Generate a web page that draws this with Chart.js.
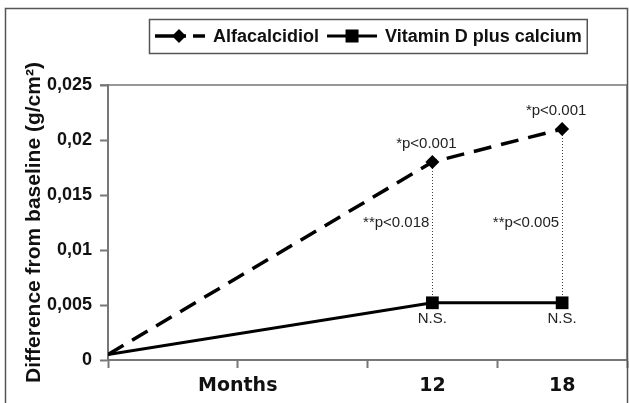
<!DOCTYPE html>
<html lang="en">
<head>
<meta charset="UTF-8">
<title>Difference from baseline</title>
<script src="https://cdn.jsdelivr.net/npm/chart.js"></script>
<style>
  html, body { margin: 0; padding: 0; background: #fff; }
</style>
</head>
<body>
<canvas id="grafico" width="629" height="403"></canvas>

<script>
// values
const months = [0, 12, 18];
const alfacalcidiol = [0.0005, 0.018, 0.021];
const vitaminDCalcium = [0.0005, 0.0052, 0.0052];
const seriesNames = ['Alfacalcidiol', 'Vitamin D plus calcium'];
const yTickValues = [0, 0.005, 0.01, 0.015, 0.02, 0.025];
const yTickLabels = ['0', '0,005', '0,01', '0,015', '0,02', '0,025'];
const xTickLabels = ['Months', '12', '18'];
const pAlfa = ['', '*p<0.001', '*p<0.001'];
const pBetween = ['', '**p<0.018', '**p<0.005'];
const pVitD = ['', 'N.S.', 'N.S.'];

// time axis is not to scale: baseline on the y axis, 12 and 18 in the last two slots
function slot(m) { return m === 0 ? 0 : 2.5 + (m - 12) / 6; }
const labelSlots = [1, slot(12), slot(18)];

const AXIS = '#777';
const TEXT = '#111';
const FONT = '"Liberation Sans", Arial, sans-serif';

function toPoints(values) {
    return months.map((m, i) => ({ x: slot(m), y: values[i] }));
}

function drawLegend(chart) {
    const ctx = chart.ctx;
    const area = chart.chartArea;
    ctx.save();
    ctx.font = 'bold 18px ' + FONT;
    const w1 = ctx.measureText(seriesNames[0]).width;
    const w2 = ctx.measureText(seriesNames[1]).width;
    const sample = 50, gap = 8, padL = 6, padR = 5;
    const boxW = padL + sample + gap + w1 + gap + sample + gap + w2 + padR;
    const left = Math.round((area.left + area.right) / 2 - boxW / 2);
    const top = 19, h = 34, mid = top + h / 2;

    ctx.strokeStyle = '#555';
    ctx.lineWidth = 1.5;
    ctx.strokeRect(left + 0.5, top + 0.5, boxW, h);

    // alfacalcidiol sample: dashed line with diamond
    let x = left + padL;
    ctx.strokeStyle = '#000';
    ctx.fillStyle = '#000';
    ctx.lineWidth = 3.5;
    ctx.setLineDash([31, 7]);
    ctx.beginPath();
    ctx.moveTo(x, mid);
    ctx.lineTo(x + sample, mid);
    ctx.stroke();
    ctx.setLineDash([]);
    const d = 7, cx = x + 24;
    ctx.beginPath();
    ctx.moveTo(cx, mid - d);
    ctx.lineTo(cx + d, mid);
    ctx.lineTo(cx, mid + d);
    ctx.lineTo(cx - d, mid);
    ctx.closePath();
    ctx.fill();
    x += sample + gap;
    ctx.textBaseline = 'middle';
    ctx.fillStyle = TEXT;
    ctx.fillText(seriesNames[0], x, mid + 1);
    x += w1 + gap;

    // vitamin D sample: solid line with square
    ctx.fillStyle = '#000';
    ctx.lineWidth = 3;
    ctx.beginPath();
    ctx.moveTo(x, mid);
    ctx.lineTo(x + sample, mid);
    ctx.stroke();
    ctx.fillRect(x + sample / 2 - 6.5, mid - 6.5, 13, 13);
    x += sample + gap;
    ctx.fillStyle = TEXT;
    ctx.fillText(seriesNames[1], x, mid + 1);
    ctx.restore();
}

const molduraPlugin = {
    id: 'moldura',
    beforeDatasetsDraw(chart) {
        const ctx = chart.ctx;
        const xs = chart.scales.x, ys = chart.scales.y;
        const area = chart.chartArea;
        ctx.save();
        // plot area border (top and right)
        ctx.strokeStyle = AXIS;
        ctx.lineWidth = 1.5;
        ctx.beginPath();
        ctx.moveTo(area.left - 8, area.top);
        ctx.lineTo(area.right, area.top);
        ctx.lineTo(area.right, area.bottom);
        ctx.stroke();
        // dotted connectors between the two series
        ctx.strokeStyle = '#444';
        ctx.lineWidth = 1;
        ctx.setLineDash([1, 2]);
        months.forEach((m, i) => {
            if (!pBetween[i]) return;
            const px = Math.round(xs.getPixelForValue(slot(m))) + 0.5;
            ctx.beginPath();
            ctx.moveTo(px, ys.getPixelForValue(alfacalcidiol[i]));
            ctx.lineTo(px, ys.getPixelForValue(vitaminDCalcium[i]));
            ctx.stroke();
        });
        ctx.restore();
    },
    afterDatasetsDraw(chart) {
        const ctx = chart.ctx;
        const xs = chart.scales.x, ys = chart.scales.y;
        ctx.save();
        ctx.font = '15px ' + FONT;
        ctx.fillStyle = '#222';
        ctx.textBaseline = 'middle';
        const midY = ys.getPixelForValue(0.0125);
        months.forEach((m, i) => {
            const px = xs.getPixelForValue(slot(m));
            ctx.textAlign = 'center';
            if (pAlfa[i]) ctx.fillText(pAlfa[i], px - 6, ys.getPixelForValue(alfacalcidiol[i]) - 18);
            if (pVitD[i]) ctx.fillText(pVitD[i], px, ys.getPixelForValue(vitaminDCalcium[i]) + 16);
            ctx.textAlign = 'right';
            if (pBetween[i]) ctx.fillText(pBetween[i], px - 3, midY);
        });
        ctx.restore();
    },
    afterDraw(chart) {
        const ctx = chart.ctx;
        ctx.save();
        ctx.strokeStyle = '#555';
        ctx.lineWidth = 1.5;
        ctx.strokeRect(5.5, 8.5, 622, 420);
        ctx.restore();
        drawLegend(chart);
    }
};

new Chart(document.getElementById('grafico'), {
    type: 'line',
    data: {
        datasets: [
            {
                label: seriesNames[0],
                data: toPoints(alfacalcidiol),
                borderColor: '#000',
                backgroundColor: '#000',
                borderWidth: 3.5,
                borderDash: [18, 10],
                tension: 0,
                pointStyle: 'rectRot',
                pointRadius: [0, 7, 7],
                pointBorderWidth: 0
            },
            {
                label: seriesNames[1],
                data: toPoints(vitaminDCalcium),
                borderColor: '#000',
                backgroundColor: '#000',
                borderWidth: 3,
                tension: 0,
                pointStyle: 'rect',
                pointRadius: [0, 9, 9],
                pointBorderWidth: 0
            }
        ]
    },
    options: {
        responsive: false,
        devicePixelRatio: 1,
        animation: false,
        events: [],
        layout: { autoPadding: false, padding: { left: 22, top: 85, right: 2, bottom: 0 } },
        plugins: {
            legend: { display: false },
            tooltip: { enabled: false }
        },
        scales: {
            x: {
                type: 'linear',
                min: 0,
                max: 4,
                afterBuildTicks: axis => {
                    axis.ticks = [0, 1, 2, 2.5, 3, 3.5, 4].map(v => ({ value: v }));
                },
                afterFit: axis => {
                    axis.height = 43;
                    axis.paddingLeft = 0;
                    axis.paddingRight = 0;
                },
                ticks: {
                    autoSkip: false,
                    maxRotation: 0,
                    padding: 7,
                    color: TEXT,
                    font: { family: '"DejaVu Sans", Verdana, sans-serif', size: 19, weight: 'bold' },
                    callback: v => {
                        const i = labelSlots.indexOf(v);
                        return i >= 0 ? xTickLabels[i] : '';
                    }
                },
                grid: {
                    drawOnChartArea: false,
                    tickLength: 8,
                    tickWidth: 2,
                    tickColor: c => Number.isInteger(c.tick && c.tick.value) ? AXIS : 'rgba(0,0,0,0)'
                },
                border: { color: AXIS, width: 2 }
            },
            y: {
                min: 0,
                max: 0.025,
                afterBuildTicks: axis => {
                    axis.ticks = yTickValues.map(v => ({ value: v }));
                },
                afterFit: axis => { axis.width = 86; },
                ticks: {
                    padding: 8,
                    color: TEXT,
                    font: { family: FONT, size: 18, weight: 'bold' },
                    callback: (v, i) => yTickLabels[i]
                },
                grid: {
                    drawOnChartArea: false,
                    tickLength: 8,
                    tickWidth: 2,
                    tickColor: AXIS
                },
                border: { color: AXIS, width: 2 },
                title: {
                    display: true,
                    text: 'Difference from baseline (g/cm²)',
                    color: TEXT,
                    font: { family: FONT, size: 21, weight: 'bold' },
                    padding: 0
                }
            }
        }
    },
    plugins: [molduraPlugin]
});
</script>
</body>
</html>
